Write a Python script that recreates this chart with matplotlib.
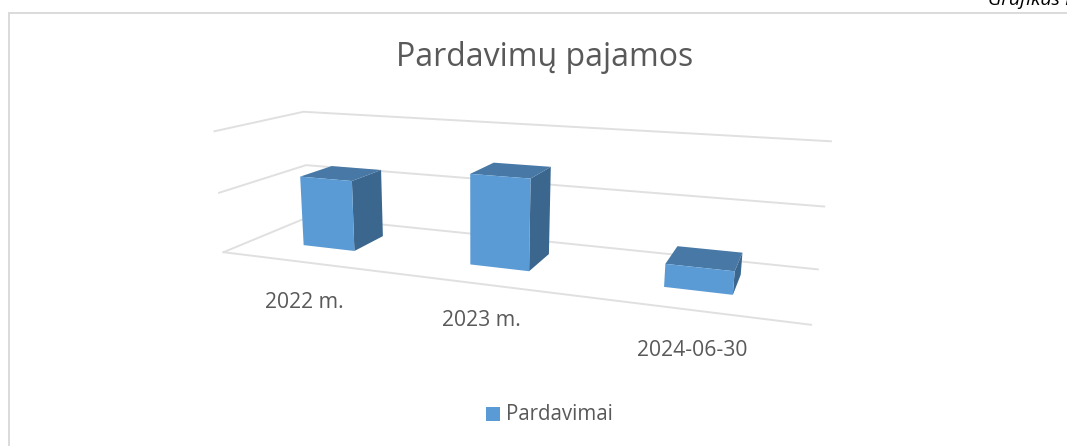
import numpy as np
import matplotlib
matplotlib.use('Agg')
import matplotlib.pyplot as plt
from matplotlib.patches import Polygon

# data
categories = ['2022 m.', '2023 m.', '2024-06-30']
sales = [1.18, 1.45, 0.35]
series_name = 'Pardavimai'
grid_values = [0, 1, 2]
chart_title = 'Pardavimų pajamos'

# (x, depth, z) -> pixel pairs used to fit the 3D camera of the picture
world = [(0, 0, 0), (0, 0, 1), (0, 0, 2),
         (0, 1, 0), (0, 1, 1), (0, 1, 2),
         (3, 1, 0), (3, 1, 1), (3, 1, 2),
         (3, 0, 0)]
pixels = [(226, 252), (219, 193), (212, 131),
          (305, 217), (308, 165), (305, 112),
          (818, 269), (825, 207), (830, 141),
          (811, 325)]

# solve projection matrix
rows = []
for (X, Y, Z), (u, v) in zip(world, pixels):
    rows.append([X, Y, Z, 1, 0, 0, 0, 0, -u * X, -u * Y, -u * Z, -u])
    rows.append([0, 0, 0, 0, X, Y, Z, 1, -v * X, -v * Y, -v * Z, -v])
P = np.linalg.svd(np.array(rows, float))[2][-1].reshape(3, 4)


def project(x, y, z):
    p = P @ np.array([x, y, z, 1.0])
    return p[0] / p[2], p[1] / p[2]


fig = plt.figure(figsize=(10.67, 4.46), dpi=100)
ax = fig.add_axes([0, 0, 1, 1])
ax.set_xlim(0, 1067)
ax.set_ylim(446, 0)
ax.axis('off')

text_color = '#595959'
grid_color = '#e0e0e0'
font = 'Open Sans'

# chart frame
ax.plot([9, 9, 1067], [446, 13, 13], color='#dadada', lw=1.4, solid_joinstyle='miter')

# grid lines on side and back walls
for z in grid_values:
    pts = [project(0, 0, z), project(0, 1, z), project(3, 1, z)]
    ax.plot([p[0] for p in pts], [p[1] for p in pts], color=grid_color, lw=1.4, zorder=1)
pts = [project(0, 0, 0), project(3, 0, 0)]
ax.plot([p[0] for p in pts], [p[1] for p in pts], color=grid_color, lw=1.4, zorder=1)

# bars
bar_w = 0.32
d0, d1 = 0.33, 0.72
for i, val in enumerate(sales):
    x0 = i + 0.485 - bar_w / 2
    x1 = i + 0.485 + bar_w / 2
    side = [project(x1, d0, 0), project(x1, d1, 0), project(x1, d1, val), project(x1, d0, val)]
    top = [project(x0, d0, val), project(x1, d0, val), project(x1, d1, val), project(x0, d1, val)]
    front = [project(x0, d0, 0), project(x1, d0, 0), project(x1, d0, val), project(x0, d0, val)]
    ax.add_patch(Polygon(side, closed=True, fc='#3b668e', ec='none', zorder=3))
    ax.add_patch(Polygon(top, closed=True, fc='#4778a6', ec='none', zorder=3))
    ax.add_patch(Polygon(front, closed=True, fc='#5b9bd5', ec='none', zorder=4))

# labels
label_x = [304, 481, 692]
label_y = [302, 321, 350]
for name, lx, ly in zip(categories, label_x, label_y):
    ax.text(lx, ly, name, ha='center', va='center', color=text_color, fontsize=15.2, family=font)

ax.text(545, 57, chart_title, ha='center', va='center', color=text_color, fontsize=23, family=font)

# legend
ax.add_patch(Polygon([(486, 407), (500, 407), (500, 421), (486, 421)], closed=True, fc='#5b9bd5', ec='none'))
ax.text(506, 414, series_name, ha='left', va='center', color=text_color, fontsize=14.8, family=font)

# cut off page text above the frame
ax.text(988, 5, 'Grafikas N', ha='left', va='baseline', color='black', style='italic', fontsize=14, family=font)

fig.savefig('out.png', dpi=100)
